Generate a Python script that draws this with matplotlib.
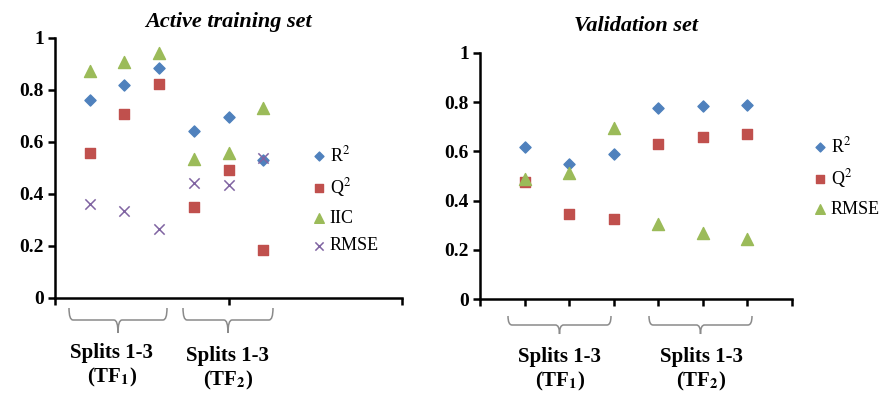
import matplotlib
matplotlib.use("Agg")
import matplotlib.pyplot as plt
from matplotlib.path import Path
from matplotlib.patches import PathPatch
from matplotlib.ticker import FuncFormatter, MultipleLocator

plt.rcParams["font.family"] = ["Liberation Serif", "DejaVu Serif"]
plt.rcParams["mathtext.fontset"] = "stix"

# Split index (three splits for TF1, three for TF2)
splits = [1, 2, 3, 4, 5, 6]

# Active training set statistics
train_r2 = [0.762, 0.819, 0.883, 0.642, 0.697, 0.531]
train_q2 = [0.556, 0.706, 0.823, 0.351, 0.492, 0.185]
train_iic = [0.873, 0.906, 0.941, 0.533, 0.556, 0.729]
train_rmse = [0.360, 0.335, 0.265, 0.443, 0.435, 0.537]

# Validation set statistics
val_r2 = [0.619, 0.547, 0.588, 0.775, 0.785, 0.789]
val_q2 = [0.477, 0.344, 0.325, 0.629, 0.659, 0.672]
val_rmse = [0.488, 0.511, 0.696, 0.304, 0.267, 0.244]

group_labels = ["Splits 1-3\n(TF$_\\mathbf{1}$)", "Splits 1-3\n(TF$_\\mathbf{2}$)"]

BLUE = "#4F81BD"
RED = "#C0504D"
GREEN = "#9BBB59"
PURPLE = "#8064A2"

W, H = 881, 394
fig = plt.figure(figsize=(W / 100, H / 100), dpi=100)


def px_axes(x0, y0, x1, y1):
    return fig.add_axes([x0 / W, 1 - y1 / H, (x1 - x0) / W, (y1 - y0) / H])


def style_axes(ax, xmax, xstep):
    ax.set_xlim(0, xmax)
    ax.set_ylim(0, 1)
    for s in ("top", "right"):
        ax.spines[s].set_visible(False)
    for s in ("left", "bottom"):
        ax.spines[s].set_linewidth(1.8)
    ax.yaxis.set_major_locator(MultipleLocator(0.2))
    ax.xaxis.set_major_locator(MultipleLocator(xstep))
    ax.yaxis.set_major_formatter(FuncFormatter(lambda v, p: f"{v:g}"))
    ax.set_xticklabels([])
    ax.tick_params(axis="both", direction="out", length=5, width=1.8)
    ax.tick_params(axis="y", labelsize=14, pad=3)
    for lab in ax.get_yticklabels():
        lab.set_fontweight("bold")
    ax.patch.set_alpha(0)


def bracket(x0, x1, ytop, ybot, ytip):
    xm = (x0 + x1) / 2
    r = 4
    pts = [
        (x0, ytop), (x0, ybot), (x0 + r, ybot),
        (xm - r, ybot), (xm, ybot), (xm, ytip),
        (xm, ybot), (xm + r, ybot),
        (x1 - r, ybot), (x1, ybot), (x1, ytop),
    ]
    codes = [Path.MOVETO, Path.CURVE3, Path.CURVE3,
             Path.LINETO, Path.CURVE3, Path.CURVE3,
             Path.CURVE3, Path.CURVE3,
             Path.LINETO, Path.CURVE3, Path.CURVE3]
    verts = [(x / W, 1 - y / H) for x, y in pts]
    fig.add_artist(PathPatch(Path(verts, codes), transform=fig.transFigure,
                             fill=False, edgecolor="#8a8a8a", lw=1.1))


def group_text(x, y, s):
    fig.text(x / W, 1 - y / H, s, ha="center", va="center", fontsize=15,
             fontweight="bold", linespacing=1.2)


# Left panel: active training set
ax1 = px_axes(55, 38, 402, 298)
ax1.scatter(splits, train_r2, marker="D", s=32, color=BLUE, label="R$^2$", zorder=3)
ax1.scatter(splits, train_q2, marker="s", s=55, color=RED, label="Q$^2$", zorder=3)
ax1.scatter(splits, train_iic, marker="^", s=75, color=GREEN, label="IIC", zorder=3)
ax1.scatter(splits, train_rmse, marker="x", s=55, color=PURPLE, lw=1.1, label="RMSE", zorder=3)
style_axes(ax1, 10, 5)
ax1.set_title("Active training set", fontsize=16, fontweight="bold", style="italic", pad=8)
ax1.legend(loc="upper left", bbox_to_anchor=(308 / W, 1 - 145 / H),
           bbox_transform=fig.transFigure, frameon=False, fontsize=13,
           handletextpad=0.0, handlelength=1.2, labelspacing=0.6,
           borderaxespad=0, borderpad=0, markerscale=0.8)

# Right panel: validation set
ax2 = px_axes(480, 53, 792, 299)
ax2.scatter(splits, val_r2, marker="D", s=32, color=BLUE, label="R$^2$", zorder=3)
ax2.scatter(splits, val_q2, marker="s", s=55, color=RED, label="Q$^2$", zorder=3)
ax2.scatter(splits, val_rmse, marker="^", s=75, color=GREEN, label="RMSE", zorder=3)
style_axes(ax2, 7, 1)
ax2.set_title("Validation set", fontsize=16, fontweight="bold", style="italic", pad=16)
ax2.legend(loc="upper left", bbox_to_anchor=(809 / W, 1 - 136 / H),
           bbox_transform=fig.transFigure, frameon=False, fontsize=13,
           handletextpad=0.0, handlelength=1.2, labelspacing=0.6,
           borderaxespad=0, borderpad=0, markerscale=0.8)

# Group brackets and labels under each panel
bracket(69, 167, 308, 320, 333)
bracket(183, 273, 308, 320, 333)
group_text(112, 366, group_labels[0])
group_text(228, 369, group_labels[1])

bracket(508, 611, 316, 325, 334)
bracket(649, 752, 316, 325, 334)
group_text(560, 370, group_labels[0])
group_text(701, 370, group_labels[1])

fig.savefig("out.png", dpi=100)
